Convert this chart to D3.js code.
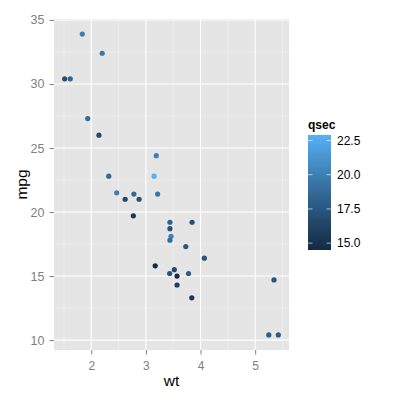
<!DOCTYPE html>
<html><head><meta charset="utf-8">
<script src="https://cdn.jsdelivr.net/npm/d3@7"></script>
<style>body{margin:0;background:#fff}text{font-family:"Liberation Sans",Arial,sans-serif}</style>
</head><body><svg id="c" width="400" height="400"></svg>
<script>
const wt   = [2.620,2.875,2.320,3.215,3.440,3.460,3.570,3.190,3.150,3.440,3.440,4.070,3.730,3.780,5.250,5.424,5.345,2.200,1.615,1.835,2.465,3.520,3.435,3.840,3.845,1.935,2.140,1.513,3.170,2.770,3.570,2.780];
const mpg  = [21.0,21.0,22.8,21.4,18.7,18.1,14.3,24.4,22.8,19.2,17.8,16.4,17.3,15.2,10.4,10.4,14.7,32.4,30.4,33.9,21.5,15.5,15.2,13.3,19.2,27.3,26.0,30.4,15.8,19.7,15.0,21.4];
const qsec = [16.46,17.02,18.61,19.44,17.02,20.22,15.84,20.00,22.90,18.30,18.90,17.40,17.60,18.00,17.98,17.82,17.42,19.47,18.52,19.90,20.01,16.87,17.30,15.41,17.05,18.90,16.70,16.90,14.50,15.50,14.60,18.60];
const xTicks = [2,3,4,5];
const yTicks = [10,15,20,25,30,35];
const legendTicks = [15.0,17.5,20.0,22.5];

const svg = d3.select("#c");
const L=54, R=289, T=19, B=350;
const xr=d3.extent(wt), yr=d3.extent(mpg);
const xe=(xr[1]-xr[0])*0.05, ye=(yr[1]-yr[0])*0.05;
const x=d3.scaleLinear().domain([xr[0]-xe,xr[1]+xe]).range([L,R]);
const y=d3.scaleLinear().domain([yr[0]-ye,yr[1]+ye]).range([B,T]);
const qr=d3.extent(qsec);
const col=d3.scaleLinear().domain(qr).range(["#132B43","#56B1F7"]).interpolate(d3.interpolateLab);

svg.append("rect").attr("x",L).attr("y",T).attr("width",R-L).attr("height",B-T).attr("fill","#E5E5E5");
const g=svg.append("g");
const xMinor=[1.5,2.5,3.5,4.5,5.5], yMinor=[12.5,17.5,22.5,27.5,32.5];
xMinor.forEach(v=>g.append("line").attr("x1",x(v)).attr("x2",x(v)).attr("y1",T).attr("y2",B).attr("stroke","#F2F2F2").attr("stroke-width",0.6));
yMinor.forEach(v=>g.append("line").attr("y1",y(v)).attr("y2",y(v)).attr("x1",L).attr("x2",R).attr("stroke","#F2F2F2").attr("stroke-width",0.6));
xTicks.forEach(v=>g.append("line").attr("x1",x(v)).attr("x2",x(v)).attr("y1",T).attr("y2",B).attr("stroke","#fff").attr("stroke-width",1.1));
yTicks.forEach(v=>g.append("line").attr("y1",y(v)).attr("y2",y(v)).attr("x1",L).attr("x2",R).attr("stroke","#fff").attr("stroke-width",1.1));

const xa=svg.append("g").attr("transform",`translate(0,${B})`).call(d3.axisBottom(x).tickValues(xTicks).tickSize(4.5).tickPadding(7).tickFormat(d3.format("d")));
const ya=svg.append("g").attr("transform",`translate(${L},0)`).call(d3.axisLeft(y).tickValues(yTicks).tickSize(4.5).tickPadding(5).tickFormat(d3.format("d")));
[xa,ya].forEach(a=>{a.select(".domain").remove();a.selectAll("line").attr("stroke","#7F7F7F");a.selectAll("text").attr("fill","#7F7F7F").style("font-family","Liberation Sans, Arial, sans-serif");});
xa.selectAll("text").attr("font-size",12);
ya.selectAll("text").attr("font-size",12.5);

svg.append("g").selectAll("circle").data(wt.map((d,i)=>i)).join("circle")
  .attr("cx",i=>x(wt[i])).attr("cy",i=>y(mpg[i])).attr("r",2.6).attr("fill",i=>col(qsec[i]));

svg.append("text").attr("x",(L+R)/2).attr("y",386).attr("text-anchor","middle").attr("font-size",15.5).attr("fill","#000").text("wt");
svg.append("text").attr("transform",`translate(27,${(T+B)/2}) rotate(-90)`).attr("text-anchor","middle").attr("font-size",15.5).attr("fill","#000").text("mpg");

const lx=308, lw=23, lt=135, lb=250;
const ly=d3.scaleLinear().domain(qr).range([lb,lt]);
const defs=svg.append("defs");
const grad=defs.append("linearGradient").attr("id","gr").attr("x1",0).attr("y1",1).attr("x2",0).attr("y2",0);
d3.range(0,1.0001,0.05).forEach(t=>grad.append("stop").attr("offset",t).attr("stop-color",col(qr[0]+t*(qr[1]-qr[0]))));
svg.append("rect").attr("x",lx).attr("y",lt).attr("width",lw).attr("height",lb-lt).attr("fill","url(#gr)");
legendTicks.forEach(v=>{
  svg.append("line").attr("x1",lx).attr("x2",lx+4.5).attr("y1",ly(v)).attr("y2",ly(v)).attr("stroke","#fff").attr("stroke-opacity",0.6);
  svg.append("line").attr("x1",lx+lw-4.5).attr("x2",lx+lw).attr("y1",ly(v)).attr("y2",ly(v)).attr("stroke","#fff").attr("stroke-opacity",0.6);
  svg.append("text").attr("x",lx+lw+6).attr("y",ly(v)).attr("dy","0.35em").attr("font-size",12).attr("fill","#000").text(d3.format(".1f")(v));
});
svg.append("text").attr("x",lx).attr("y",129).attr("font-size",12).attr("font-weight","bold").text("qsec");
</script></body></html>
